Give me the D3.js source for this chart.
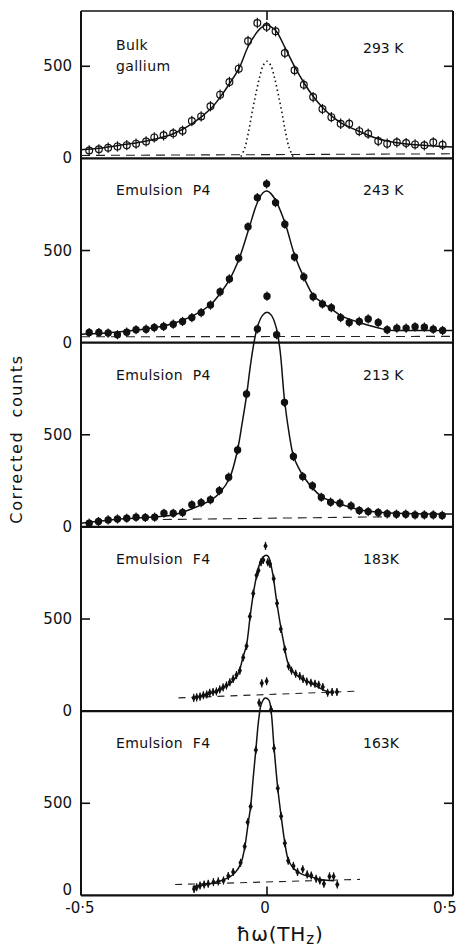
<!DOCTYPE html>
<html>
<head>
<meta charset="utf-8">
<script src="https://cdn.jsdelivr.net/npm/d3@7/dist/d3.min.js"></script>
<style>
body { margin: 0; background: #fff; }
text { font-family: "DejaVu Sans", sans-serif; fill: #111; }
</style>
</head>
<body>
<svg id="chart"></svg>
<script>
// ---- data ----
const sampleNames = [['Bulk', 'gallium'], ['Emulsion  P4'], ['Emulsion  P4'], ['Emulsion  F4'], ['Emulsion  F4']];
const temps = ['293 K', '243 K', '213 K', '183K', '163K'];
const yTicks = [0, 500];
const xTickLabels = ['-0·5', '0', '0·5'];

// 293 K bulk gallium
const energy1 = [-0.478,-0.452,-0.427,-0.402,-0.377,-0.352,-0.325,-0.303,-0.278,-0.252,-0.227,-0.202,-0.177,-0.152,-0.126,-0.101,-0.076,-0.051,-0.026,-0.001,0.023,0.048,0.074,0.099,0.124,0.149,0.173,0.198,0.221,0.248,0.272,0.299,0.323,0.349,0.374,0.398,0.423,0.447,0.472];
const counts1 = [43,49,58,65,72,80,92,114,125,136,150,203,228,283,346,415,487,637,735,714,690,572,478,400,333,268,224,188,188,148,134,94,80,87,83,76,71,87,74];
const fitE1 = [-0.5,-0.45,-0.4,-0.35,-0.3,-0.25,-0.2,-0.15,-0.125,-0.1,-0.075,-0.05,-0.025,-0.01,0,0.01,0.025,0.05,0.075,0.1,0.125,0.15,0.175,0.2,0.25,0.3,0.35,0.4,0.45,0.5];
const fitC1 = [47,55,70,85,105,135,190,272,335,408,490,610,690,718,725,715,690,595,495,408,335,275,228,192,145,105,85,74,67,62];
const resE1 = [-0.07,-0.06,-0.05,-0.04,-0.03,-0.02,-0.01,0,0.01,0.02,0.03,0.04,0.05,0.06,0.07];
const resC1 = [10,55,140,250,350,440,505,527,505,440,350,250,140,55,10];
const baseE1 = [-0.5, 0.5], baseC1 = [16, 25];

// 243 K emulsion P4
const energy2 = [-0.478,-0.452,-0.427,-0.402,-0.377,-0.352,-0.325,-0.303,-0.278,-0.252,-0.227,-0.202,-0.177,-0.152,-0.126,-0.101,-0.076,-0.051,-0.026,-0.001,0.023,0.048,0.074,0.099,0.124,0.149,0.173,0.198,0.221,0.248,0.272,0.299,0.323,0.349,0.374,0.398,0.423,0.447,0.472];
const counts2 = [55,55,52,43,57,70,73,82,88,100,115,136,163,204,276,346,459,629,787,862,760,643,465,357,249,210,190,136,109,115,129,109,70,79,79,86,84,73,66];
const fitE2 = [-0.5,-0.4,-0.3,-0.25,-0.2,-0.15,-0.125,-0.1,-0.075,-0.05,-0.025,-0.01,0,0.01,0.025,0.05,0.075,0.1,0.125,0.15,0.175,0.2,0.25,0.3,0.325,0.35,0.5];
const fitC2 = [45,58,82,105,145,210,270,345,455,610,765,815,823,810,765,640,470,350,255,215,180,145,108,80,68,66,66];
const baseE2 = [-0.5, 0.5], baseC2 = [32, 34];

// 213 K emulsion P4
const energy3 = [-0.478,-0.453,-0.427,-0.402,-0.377,-0.352,-0.327,-0.302,-0.277,-0.252,-0.227,-0.202,-0.177,-0.152,-0.128,-0.103,-0.079,-0.055,-0.026,0,0.026,0.047,0.071,0.096,0.122,0.146,0.171,0.196,0.226,0.248,0.272,0.299,0.323,0.348,0.373,0.398,0.423,0.447,0.471];
const counts3 = [20,29,38,43,47,53,51,53,74,74,78,120,132,147,197,270,418,721,1074,1252,1043,676,382,273,223,161,134,129,114,89,83,78,71,69,69,65,65,65,62];
const fitE3 = [-0.5,-0.4,-0.35,-0.3,-0.25,-0.2,-0.15,-0.125,-0.1,-0.08,-0.067,-0.055,-0.045,-0.035,-0.025,-0.012,0,0.012,0.025,0.035,0.047,0.06,0.071,0.085,0.1,0.125,0.15,0.2,0.25,0.3,0.4,0.5];
const fitC3 = [20,42,48,55,66,100,147,190,268,410,560,712,870,1000,1090,1148,1165,1148,1080,960,690,500,385,320,268,205,160,122,92,80,71,70];
const baseE3 = [-0.28, 0.33], baseC3 = [40, 55];

// 183 K emulsion F4
const energy4 = [-0.197,-0.189,-0.18,-0.171,-0.162,-0.154,-0.145,-0.136,-0.127,-0.118,-0.109,-0.1,-0.091,-0.082,-0.073,-0.064,-0.055,-0.046,-0.037,-0.028,-0.023,-0.016,-0.01,-0.004,0.002,0.008,0.018,0.027,0.037,0.048,0.058,0.066,0.077,0.088,0.097,0.107,0.118,0.129,0.139,0.15,0.163,0.175,0.188];
const counts4 = [72,75,79,86,90,100,104,107,118,129,139,157,175,196,220,291,354,514,639,737,763,808,820,897,808,799,719,585,446,336,244,220,203,190,175,161,154,149,143,131,100,104,104];
const fitE4 = [-0.2,-0.15,-0.12,-0.1,-0.085,-0.075,-0.065,-0.055,-0.045,-0.035,-0.025,-0.015,-0.005,0,0.005,0.015,0.025,0.035,0.045,0.055,0.065,0.08,0.1,0.12,0.14,0.16,0.18];
const fitC4 = [72,98,125,150,180,215,290,360,520,660,760,825,845,845,835,750,610,480,370,270,225,195,170,150,128,108,98];
const baseE4 = [-0.238, 0.245], baseC4 = [72, 109];

// 163 K emulsion F4
const energy5 = [-0.196,-0.189,-0.18,-0.169,-0.158,-0.144,-0.131,-0.117,-0.104,-0.091,-0.071,-0.06,-0.052,-0.044,-0.03,-0.021,-0.014,-0.001,0.011,0.019,0.029,0.038,0.048,0.057,0.071,0.082,0.096,0.108,0.119,0.132,0.142,0.153,0.168,0.179,0.189];
const counts5 = [35,44,54,59,63,72,76,81,105,127,177,265,397,482,789,1046,1151,1162,1009,798,581,430,283,188,160,127,142,114,108,90,81,63,103,103,59];
const fitE5 = [-0.2,-0.15,-0.12,-0.1,-0.085,-0.07,-0.06,-0.05,-0.044,-0.037,-0.03,-0.022,-0.015,-0.005,0.005,0.011,0.019,0.029,0.038,0.048,0.057,0.07,0.085,0.1,0.12,0.14,0.16,0.18];
const fitC5 = [45,65,82,100,125,175,260,400,482,640,790,960,1040,1071,1060,1000,800,580,430,285,195,150,125,110,100,88,82,80];
const baseE5 = [-0.247, 0.25], baseC5 = [59, 87];

const errBars = [28, 25, 25, 22, 22];   // +/- counts

// ---- layout ----
const width = 464, height = 947;
const plotLeft = 81, plotRight = 453, plotTop = 11;
const pxPerCount = 0.18425;
const panelMax = [800, 1000, 1000, 1000, 1000];
const markers = ['open', 'dot', 'dot', 'diamond', 'diamond'];

const zip = (a, b) => a.map((v, i) => [v, b[i]]);
const panels = [
    {pts: zip(energy1, counts1), fit: zip(fitE1, fitC1), res: zip(resE1, resC1), base: zip(baseE1, baseC1)},
    {pts: zip(energy2, counts2), fit: zip(fitE2, fitC2), base: zip(baseE2, baseC2)},
    {pts: zip(energy3, counts3), fit: zip(fitE3, fitC3), base: zip(baseE3, baseC3)},
    {pts: zip(energy4, counts4), fit: zip(fitE4, fitC4), base: zip(baseE4, baseC4)},
    {pts: zip(energy5, counts5), fit: zip(fitE5, fitC5), base: zip(baseE5, baseC5)}
];

const svg = d3.select('#chart').attr('width', width).attr('height', height);

const x = d3.scaleLinear().domain([-0.5, 0.5]).range([plotLeft, plotRight]);

let cursor = plotTop;
panels.forEach((p, i) => {
    const h = panelMax[i] * pxPerCount;
    p.y = d3.scaleLinear().domain([0, panelMax[i]]).range([cursor + h, cursor]);
    cursor += h;
});
const plotBottom = cursor;

// frame
const frame = svg.append('g').attr('stroke', '#111').attr('fill', 'none');
frame.append('line').attr('x1', plotLeft).attr('x2', plotLeft).attr('y1', plotTop).attr('y2', plotBottom).attr('stroke-width', 2);
frame.append('line').attr('x1', plotRight).attr('x2', plotRight).attr('y1', plotTop).attr('y2', plotBottom).attr('stroke-width', 2);
frame.append('line').attr('x1', plotLeft).attr('x2', plotRight).attr('y1', plotTop).attr('y2', plotTop).attr('stroke-width', 1.6);
frame.append('line').attr('x1', x(0)).attr('x2', x(0)).attr('y1', plotTop).attr('y2', plotTop + 9).attr('stroke-width', 1.6);
frame.append('line').attr('x1', x(0)).attr('x2', x(0)).attr('y1', plotBottom).attr('y2', plotBottom - 9).attr('stroke-width', 1.6);

const lineGen = d3.line().x(d => x(d[0])).curve(d3.curveCatmullRom.alpha(0.5));

panels.forEach((p, i) => {
    const y = p.y;
    const g = svg.append('g');

    // zero line and ticks
    g.append('line').attr('x1', plotLeft).attr('x2', plotRight)
        .attr('y1', y(0)).attr('y2', y(0))
        .attr('stroke', '#111').attr('stroke-width', 2.2);
    g.append('line').attr('x1', plotLeft).attr('x2', plotLeft + 9)
        .attr('y1', y(500)).attr('y2', y(500)).attr('stroke', '#111').attr('stroke-width', 1.6);
    g.append('line').attr('x1', plotRight - 9).attr('x2', plotRight)
        .attr('y1', y(500)).attr('y2', y(500)).attr('stroke', '#111').attr('stroke-width', 1.6);

    yTicks.forEach(t => {
        g.append('text')
            .attr('x', 72)
            .attr('y', y(t) + (t === 0 && i === panels.length - 1 ? -5 : 0))
            .attr('text-anchor', 'end')
            .attr('dominant-baseline', 'central')
            .style('font-size', '15px')
            .text(t);
    });

    // baseline (dashed)
    g.append('path')
        .attr('d', d3.line().x(d => x(d[0])).y(d => y(d[1]))(p.base))
        .attr('fill', 'none').attr('stroke', '#222').attr('stroke-width', 1.1)
        .attr('stroke-dasharray', i < 3 ? '9,6' : '7,6');

    // resolution function (dotted)
    if (p.res) {
        g.append('path')
            .attr('d', lineGen.y(d => y(d[1]))(p.res))
            .attr('fill', 'none').attr('stroke', '#111').attr('stroke-width', 1.6)
            .attr('stroke-dasharray', '1.5,3');
    }

    // fitted curve
    g.append('path')
        .attr('d', lineGen.y(d => y(d[1]))(p.fit))
        .attr('fill', 'none').attr('stroke', '#111').attr('stroke-width', 1.5);

    // error bars
    const e = errBars[i];
    g.selectAll('.err').data(p.pts).enter().append('line')
        .attr('x1', d => x(d[0])).attr('x2', d => x(d[0]))
        .attr('y1', d => y(d[1] - e)).attr('y2', d => y(d[1] + e))
        .attr('stroke', '#111').attr('stroke-width', 1.2);

    // markers
    if (markers[i] === 'diamond') {
        g.selectAll('.pt').data(p.pts).enter().append('path')
            .attr('d', d3.symbol(d3.symbolDiamond, 16))
            .attr('transform', d => `translate(${x(d[0])},${y(d[1])})`)
            .attr('fill', '#111');
    } else {
        g.selectAll('.pt').data(p.pts).enter().append('circle')
            .attr('cx', d => x(d[0])).attr('cy', d => y(d[1]))
            .attr('r', markers[i] === 'open' ? 3.4 : 3.1)
            .attr('fill', markers[i] === 'open' ? 'none' : '#111')
            .attr('stroke', '#111').attr('stroke-width', 1.2);
    }

    // labels
    const lines = sampleNames[i];
    const labelY = y(panelMax[i]) + (i === 0 ? 39 : 37);
    lines.forEach((s, k) => {
        g.append('text')
            .attr('x', 116).attr('y', labelY + k * 21)
            .style('font-size', '14px')
            .style('letter-spacing', '0.4px')
            .attr('xml:space', 'preserve')
            .text(s);
    });
    g.append('text')
        .attr('x', 363).attr('y', labelY + (i === 0 ? 3 : 0))
        .style('font-size', '14px')
        .text(temps[i]);
});

// x tick labels
const xl = svg.append('g').style('font-size', '15px');
xl.append('text').attr('x', 80).attr('y', 913).attr('text-anchor', 'middle').text(xTickLabels[0]);
xl.append('text').attr('x', x(0) - 2).attr('y', 913).attr('text-anchor', 'middle').text(xTickLabels[1]);
xl.append('text').attr('x', 445).attr('y', 913).attr('text-anchor', 'middle').text(xTickLabels[2]);

// axis titles
const xt = svg.append('text').attr('x', 280).attr('y', 941)
    .attr('text-anchor', 'middle').style('font-size', '20px')
    .style('letter-spacing', '0.8px');
xt.append('tspan').text('ħω(TH');
xt.append('tspan').attr('dy', 3).style('font-size', '15px').text('z');
xt.append('tspan').attr('dy', -3).text(')');

svg.append('text')
    .attr('transform', 'translate(22,439) rotate(-90)')
    .attr('text-anchor', 'middle')
    .style('font-size', '16px')
    .style('letter-spacing', '1.6px')
    .attr('xml:space', 'preserve')
    .text('Corrected  counts');
</script>
</body>
</html>
